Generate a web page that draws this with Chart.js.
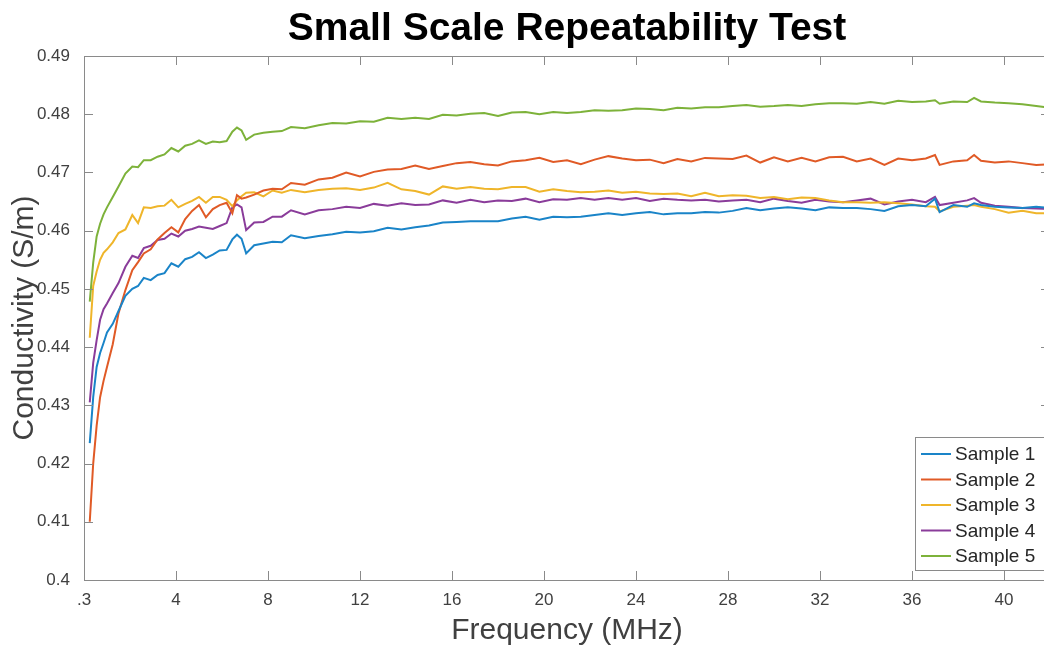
<!DOCTYPE html>
<html>
<head>
<meta charset="utf-8">
<title>Small Scale Repeatability Test</title>
<script src="https://cdn.jsdelivr.net/npm/chart.js@4.4.1/dist/chart.umd.min.js"></script>
<style>
  html, body { margin: 0; padding: 0; background: #fff; overflow: hidden; }
  #chart { display: block; }
</style>
</head>
<body>
<canvas id="chart" width="1056" height="649"></canvas>
<script>
// frequency points (MHz)
const freq = [
  0.25, 0.4, 0.55, 0.7, 0.85, 1.0, 1.25, 1.5, 1.8, 2.1,
  2.35, 2.6, 2.9, 3.2, 3.5, 3.8, 4.1, 4.4, 4.7, 5.0,
  5.3, 5.6, 5.9, 6.2, 6.45, 6.65, 6.85, 7.05, 7.4, 7.8,
  8.2, 8.6, 9.0, 9.6, 10.2, 10.8, 11.4, 12.0, 12.6, 13.2,
  13.8, 14.4, 15.0, 15.6, 16.2, 16.8, 17.4, 18.0, 18.6, 19.2,
  19.8, 20.4, 21.0, 21.6, 22.2, 22.8, 23.4, 24.0, 24.6, 25.2,
  25.8, 26.4, 27.0, 27.6, 28.2, 28.8, 29.4, 30.0, 30.6, 31.2,
  31.8, 32.4, 33.0, 33.6, 34.2, 34.8, 35.4, 36.0, 36.6, 37.0,
  37.2, 37.8, 38.4, 38.7, 39.0, 39.6, 40.2, 40.8, 41.4, 42.0
];

const sample1 = [
  0.4235, 0.4314, 0.4366, 0.4390, 0.4407, 0.4425, 0.4440, 0.4462, 0.4488, 0.4500,
  0.4505, 0.4519, 0.4515, 0.4524, 0.4527, 0.4544, 0.4538, 0.4551, 0.4555, 0.4563,
  0.4553, 0.4559, 0.4566, 0.4567, 0.4585, 0.4593, 0.4586, 0.4561, 0.4575, 0.4578,
  0.4581, 0.4580, 0.4592, 0.4587, 0.4591, 0.4594, 0.4598, 0.4597, 0.4599, 0.4605,
  0.4602, 0.4606, 0.4609, 0.4614, 0.4615, 0.4616, 0.4616, 0.4616, 0.4621, 0.4624,
  0.4619, 0.4624, 0.4623, 0.4624, 0.4627, 0.4630, 0.4627, 0.4630, 0.4632, 0.4628,
  0.4630, 0.4630, 0.4632, 0.4631, 0.4634, 0.4639, 0.4635, 0.4638, 0.4640, 0.4638,
  0.4635, 0.4640, 0.4639, 0.4639, 0.4637, 0.4634, 0.4642, 0.4644, 0.4642, 0.4655,
  0.4632, 0.4644, 0.4641, 0.4647, 0.4644, 0.4641, 0.4640, 0.4639, 0.4641, 0.4639
];

const sample2 = [
  0.4100, 0.4200, 0.4265, 0.4314, 0.4342, 0.4366, 0.4405, 0.4458, 0.4498, 0.4532,
  0.4546, 0.4561, 0.4568, 0.4585, 0.4596, 0.4606, 0.4597, 0.4620, 0.4634, 0.4644,
  0.4623, 0.4637, 0.4644, 0.4648, 0.4630, 0.4661, 0.4655, 0.4657, 0.4662, 0.4669,
  0.4672, 0.4671, 0.4682, 0.4679, 0.4688, 0.4691, 0.4700, 0.4693, 0.4701, 0.4705,
  0.4706, 0.4712, 0.4706, 0.4711, 0.4716, 0.4718, 0.4714, 0.4712, 0.4719, 0.4721,
  0.4725, 0.4718, 0.4721, 0.4714, 0.4722, 0.4728, 0.4724, 0.4721, 0.4722, 0.4716,
  0.4723, 0.4719, 0.4725, 0.4724, 0.4723, 0.4729, 0.4717, 0.4726, 0.4719, 0.4725,
  0.4719, 0.4726, 0.4727, 0.4719, 0.4724, 0.4713, 0.4724, 0.4721, 0.4724, 0.4730,
  0.4713, 0.4719, 0.4721, 0.4730, 0.4720, 0.4717, 0.4719, 0.4716, 0.4713, 0.4714
];

const sample3 = [
  0.4416, 0.4505, 0.4530, 0.4550, 0.4562, 0.4568, 0.4580, 0.4596, 0.4602, 0.4627,
  0.4613, 0.4640, 0.4639, 0.4642, 0.4643, 0.4653, 0.4640, 0.4646, 0.4651, 0.4658,
  0.4648, 0.4658, 0.4658, 0.4653, 0.4642, 0.4652, 0.4659, 0.4665, 0.4666, 0.4659,
  0.4669, 0.4665, 0.4670, 0.4666, 0.4670, 0.4672, 0.4673, 0.4670, 0.4674, 0.4682,
  0.4671, 0.4668, 0.4662, 0.4676, 0.4672, 0.4675, 0.4672, 0.4671, 0.4675, 0.4675,
  0.4667, 0.4671, 0.4668, 0.4666, 0.4667, 0.4669, 0.4665, 0.4667, 0.4664, 0.4663,
  0.4664, 0.4659, 0.4665, 0.4659, 0.4661, 0.4660, 0.4656, 0.4658, 0.4654, 0.4657,
  0.4656, 0.4652, 0.4649, 0.4649, 0.4648, 0.4649, 0.4647, 0.4645, 0.4642, 0.4641,
  0.4633, 0.4641, 0.4643, 0.4644, 0.4641, 0.4637, 0.4631, 0.4634, 0.4630, 0.4630
];

const sample4 = [
  0.4305, 0.4373, 0.4412, 0.4447, 0.4465, 0.4475, 0.4493, 0.4510, 0.4538, 0.4557,
  0.4553, 0.4570, 0.4574, 0.4584, 0.4586, 0.4595, 0.4590, 0.4600, 0.4603, 0.4607,
  0.4605, 0.4603, 0.4608, 0.4613, 0.4640, 0.4645, 0.4640, 0.4601, 0.4614, 0.4615,
  0.4624, 0.4624, 0.4635, 0.4628, 0.4635, 0.4637, 0.4641, 0.4639, 0.4646, 0.4643,
  0.4647, 0.4644, 0.4645, 0.4652, 0.4648, 0.4653, 0.4649, 0.4652, 0.4651, 0.4655,
  0.4649, 0.4654, 0.4653, 0.4656, 0.4653, 0.4656, 0.4653, 0.4656, 0.4651, 0.4655,
  0.4653, 0.4652, 0.4653, 0.4650, 0.4652, 0.4653, 0.4649, 0.4655, 0.4651, 0.4648,
  0.4653, 0.4650, 0.4649, 0.4652, 0.4655, 0.4645, 0.4650, 0.4653, 0.4649, 0.4658,
  0.4644, 0.4648, 0.4652, 0.4656, 0.4648, 0.4643, 0.4641, 0.4639, 0.4638, 0.4637
];

const sample5 = [
  0.4478, 0.4545, 0.4590, 0.4612, 0.4628, 0.4640, 0.4658, 0.4676, 0.4698, 0.4710,
  0.4709, 0.4721, 0.4721, 0.4727, 0.4731, 0.4742, 0.4736, 0.4746, 0.4749, 0.4755,
  0.4749, 0.4753, 0.4752, 0.4754, 0.4770, 0.4777, 0.4772, 0.4756, 0.4765, 0.4768,
  0.4770, 0.4771, 0.4778, 0.4776, 0.4781, 0.4785, 0.4784, 0.4788, 0.4787, 0.4794,
  0.4792, 0.4794, 0.4792, 0.4799, 0.4798, 0.4801, 0.4802, 0.4797, 0.4803, 0.4804,
  0.4800, 0.4804, 0.4802, 0.4804, 0.4807, 0.4806, 0.4807, 0.4810, 0.4809, 0.4807,
  0.4811, 0.4810, 0.4812, 0.4812, 0.4814, 0.4816, 0.4813, 0.4814, 0.4816, 0.4814,
  0.4817, 0.4819, 0.4819, 0.4818, 0.4821, 0.4818, 0.4823, 0.4821, 0.4822, 0.4824,
  0.4818, 0.4822, 0.4821, 0.4828, 0.4822, 0.4820, 0.4819, 0.4817, 0.4814, 0.4811
];

const seriesLabels = ["Sample 1", "Sample 2", "Sample 3", "Sample 4", "Sample 5"];
const seriesColors = ["#1a84c8", "#e05a26", "#efb52a", "#8a3c9a", "#7db23a"];

const xTickValues = [0, 4, 8, 12, 16, 20, 24, 28, 32, 36, 40];
const xTickLabels = [".3", "4", "8", "12", "16", "20", "24", "28", "32", "36", "40"];
const yTickValues = [0.4, 0.41, 0.42, 0.43, 0.44, 0.45, 0.46, 0.47, 0.48, 0.49];
const yTickLabels = ["0.4", "0.41", "0.42", "0.43", "0.44", "0.45", "0.46", "0.47", "0.48", "0.49"];

const axisColor = "#8a8a8a";
const textColor = "#404040";

Chart.defaults.font.family = "'Liberation Sans', Arial, sans-serif";

const allSeries = [sample1, sample2, sample3, sample4, sample5];

// title over the axes box
const titlePlugin = {
  id: "plotTitle",
  afterDraw(chart) {
    const { ctx, chartArea } = chart;
    ctx.save();
    ctx.font = "bold 39px 'Liberation Sans', Arial, sans-serif";
    ctx.fillStyle = "#000";
    ctx.textAlign = "center";
    ctx.textBaseline = "middle";
    ctx.fillText("Small Scale Repeatability Test", (chartArea.left + chartArea.right) / 2, 29);
    ctx.restore();
  }
};

// MATLAB style box with inward ticks
const boxPlugin = {
  id: "axesBox",
  afterDatasetsDraw(chart) {
    const { ctx, chartArea: a, scales } = chart;
    const len = 9;
    ctx.save();
    ctx.strokeStyle = axisColor;
    ctx.lineWidth = 1;
    ctx.beginPath();
    scales.x.ticks.forEach((t) => {
      const px = Math.round(scales.x.getPixelForValue(t.value)) + 0.5;
      ctx.moveTo(px, a.bottom);
      ctx.lineTo(px, a.bottom - len);
      ctx.moveTo(px, a.top);
      ctx.lineTo(px, a.top + len);
    });
    scales.y.ticks.forEach((t) => {
      const py = Math.round(scales.y.getPixelForValue(t.value)) + 0.5;
      ctx.moveTo(a.left, py);
      ctx.lineTo(a.left + len, py);
      ctx.moveTo(a.right, py);
      ctx.lineTo(a.right - len, py);
    });
    ctx.stroke();
    ctx.strokeRect(a.left + 0.5, a.top + 0.5, a.right - a.left - 1, a.bottom - a.top);
    ctx.restore();
  }
};

// legend box in the lower right corner
const legendPlugin = {
  id: "legendBox",
  afterDraw(chart) {
    const { ctx, chartArea } = chart;
    const w = 130, h = 133, rowH = 25.5;
    const x0 = chartArea.right - 5 - w;
    const y0 = chartArea.bottom - 10 - h;
    ctx.save();
    ctx.fillStyle = "#fff";
    ctx.fillRect(x0, y0, w, h);
    ctx.strokeStyle = axisColor;
    ctx.lineWidth = 1;
    ctx.strokeRect(x0 + 0.5, y0 + 0.5, w, h);
    ctx.font = "19px 'Liberation Sans', Arial, sans-serif";
    ctx.textBaseline = "middle";
    chart.data.datasets.forEach((ds, i) => {
      const y = y0 + 17 + i * rowH;
      ctx.strokeStyle = ds.borderColor;
      ctx.lineWidth = 2;
      ctx.beginPath();
      ctx.moveTo(x0 + 6, y);
      ctx.lineTo(x0 + 36, y);
      ctx.stroke();
      ctx.fillStyle = "#262626";
      ctx.fillText(ds.label, x0 + 40, y + 1);
    });
    ctx.restore();
  }
};

new Chart(document.getElementById("chart"), {
  type: "line",
  data: {
    datasets: allSeries.map((vals, i) => ({
      label: seriesLabels[i],
      data: freq.map((f, j) => ({ x: f, y: vals[j] })),
      borderColor: seriesColors[i],
      borderWidth: 2,
      pointRadius: 0,
      tension: 0,
      fill: false,
    })),
  },
  options: {
    responsive: false,
    animation: false,
    devicePixelRatio: 1,
    layout: { padding: { top: 56, right: 6, bottom: 0, left: 0 } },
    plugins: {
      legend: { display: false },
      tooltip: { enabled: false },
    },
    scales: {
      x: {
        type: "linear",
        min: 0,
        max: 42,
        afterBuildTicks: (s) => { s.ticks = xTickValues.map((v) => ({ value: v })); },
        afterFit: (s) => { s.height = 69; },
        grid: { display: false },
        border: { display: false },
        ticks: {
          autoSkip: false,
          maxRotation: 0,
          padding: 2,
          color: textColor,
          font: { size: 17 },
          callback: (v) => xTickLabels[xTickValues.indexOf(v)],
        },
        title: {
          display: true,
          text: "Frequency (MHz)",
          color: textColor,
          font: { size: 30 },
          padding: { top: 0, bottom: 0 },
        },
      },
      y: {
        min: 0.4,
        max: 0.49,
        afterBuildTicks: (s) => { s.ticks = yTickValues.map((v) => ({ value: v })); },
        afterFit: (s) => { s.width = 84; },
        grid: { display: false },
        border: { display: false },
        ticks: {
          autoSkip: false,
          padding: 6,
          color: textColor,
          font: { size: 17 },
          callback: (v) => yTickLabels[yTickValues.indexOf(v)],
        },
        title: {
          display: true,
          text: "Conductivity (S/m)",
          color: textColor,
          font: { size: 30 },
          padding: { top: 7, bottom: 0 },
        },
      },
    },
  },
  plugins: [boxPlugin, titlePlugin, legendPlugin],
});
</script>
</body>
</html>
